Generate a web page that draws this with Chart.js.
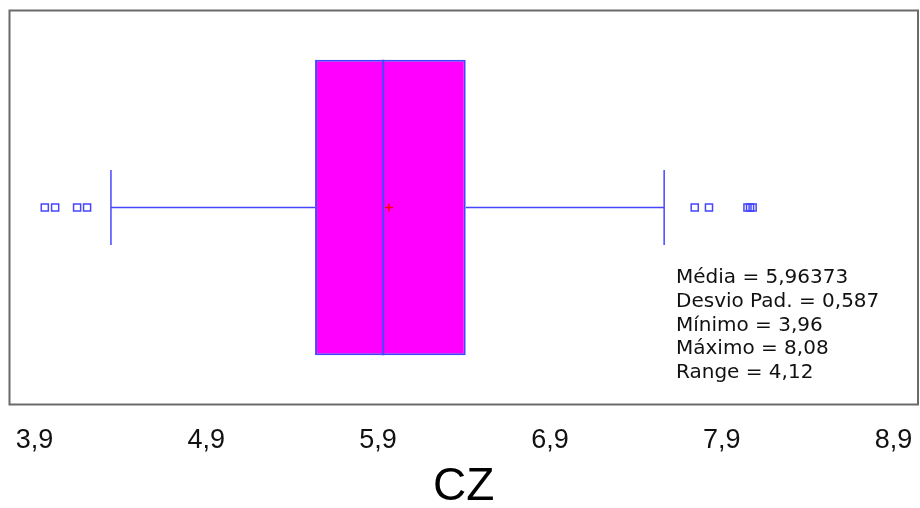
<!DOCTYPE html>
<html>
<head>
<meta charset="utf-8">
<script src="https://cdn.jsdelivr.net/npm/chart.js@4/dist/chart.umd.min.js"></script>
<style>
  html, body { margin: 0; padding: 0; background: #fff; }
  #wrap { width: 920px; height: 508px; }
</style>
</head>
<body>
<div id="wrap"><canvas id="myChart"></canvas></div>
<script>
// values
const variable = 'CZ';
const boxRange = [5.533, 6.41];      // Q1, Q3
const median = 5.93;
const mean = 5.96373;
const whiskers = [4.345, 7.565];
const outliers = [3.96, 4.02, 4.148, 4.206, 7.743, 7.826, 8.05, 8.065, 8.08];
const tickValues = [3.9, 4.9, 5.9, 6.9, 7.9, 8.9];
const statLabels = ['Média', 'Desvio Pad.', 'Mínimo', 'Máximo', 'Range'];
const statValues = ['5,96373', '0,587', '3,96', '8,08', '4,12'];

// layout (fractions of the plot height)
const mid = 0.5, boxHalf = 0.375, capHalf = 0.095;
const blue = '#4646ff';

const frame = {
  id: 'frame',
  afterDraw(chart) {
    const { ctx, chartArea: a } = chart;
    ctx.save();
    ctx.strokeStyle = '#6a6a6a';
    ctx.lineWidth = 2;
    ctx.strokeRect(a.left, a.top, a.right - a.left, a.bottom - a.top);
    ctx.restore();
  }
};

const stats = {
  id: 'stats',
  afterDraw(chart) {
    const { ctx } = chart;
    ctx.save();
    ctx.font = '20px "DejaVu Sans"';
    ctx.fillStyle = '#111';
    ctx.textBaseline = 'middle';
    statLabels.forEach((l, i) => {
      ctx.fillText(l + ' = ' + statValues[i], 676, 278 + i * 23.75);
    });
    ctx.restore();
  }
};

const vline = (x, h) => [{ x: x, y: mid - h }, { x: x, y: mid + h }];
const lineDs = (data) => ({
  type: 'line', data: data, xAxisID: 'x', yAxisID: 'y',
  borderColor: blue, borderWidth: 1.5, pointRadius: 0, order: 1
});

new Chart(document.getElementById('myChart'), {
  type: 'bar',
  data: {
    labels: [variable],
    datasets: [
      {
        type: 'bar', indexAxis: 'y', xAxisID: 'x', yAxisID: 'yCat',
        data: [boxRange],
        backgroundColor: '#ff00ff', borderColor: blue, borderWidth: 2,
        borderSkipped: false, barPercentage: 0.75, categoryPercentage: 1,
        order: 10
      },
      Object.assign(lineDs(vline(median, boxHalf)), { borderWidth: 2 }),
      lineDs([{ x: whiskers[0], y: mid }, { x: boxRange[0], y: mid }]),
      lineDs([{ x: boxRange[1], y: mid }, { x: whiskers[1], y: mid }]),
      lineDs(vline(whiskers[0], capHalf)),
      lineDs(vline(whiskers[1], capHalf)),
      {
        type: 'line', showLine: false, xAxisID: 'x', yAxisID: 'y',
        data: outliers.map(v => ({ x: v, y: mid })),
        pointStyle: 'rect', pointRadius: 5, borderWidth: 1.5,
        pointBorderColor: blue, pointBackgroundColor: 'rgba(0,0,0,0)', order: 0
      },
      {
        type: 'line', showLine: false, xAxisID: 'x', yAxisID: 'y',
        data: [{ x: mean, y: mid }],
        pointStyle: 'cross', pointRadius: 4, borderWidth: 1.5,
        pointBorderColor: '#ff0000', order: -1
      }
    ]
  },
  options: {
    responsive: true,
    maintainAspectRatio: false,
    animation: false,
    layout: { autoPadding: false, padding: { left: 9.5, top: 10.5, right: 2, bottom: 0 } },
    plugins: { legend: { display: false }, tooltip: { enabled: false } },
    scales: {
      x: {
        type: 'linear', position: 'bottom', min: 3.7545, max: 9.0426, offset: false,
        afterBuildTicks: s => { s.ticks = tickValues.map(v => ({ value: v })); },
        afterFit: s => { s.height = 103.5; s.paddingLeft = 0; s.paddingRight = 0; },
        grid: { display: false, offset: false },
        border: { display: false },
        ticks: {
          padding: 12, color: '#111', autoSkip: false, maxRotation: 0,
          font: { family: 'Liberation Sans', size: 27 },
          callback: v => v.toFixed(1).replace('.', ',')
        },
        title: {
          display: true, text: variable, color: '#000',
          font: { family: 'Liberation Sans', size: 46, lineHeight: 0.88 },
          padding: { top: 0, bottom: 0 }
        }
      },
      yCat: { type: 'category', axis: 'y', display: false },
      y: { type: 'linear', axis: 'y', min: 0, max: 1, display: false }
    }
  },
  plugins: [frame, stats]
});
</script>
</body>
</html>
